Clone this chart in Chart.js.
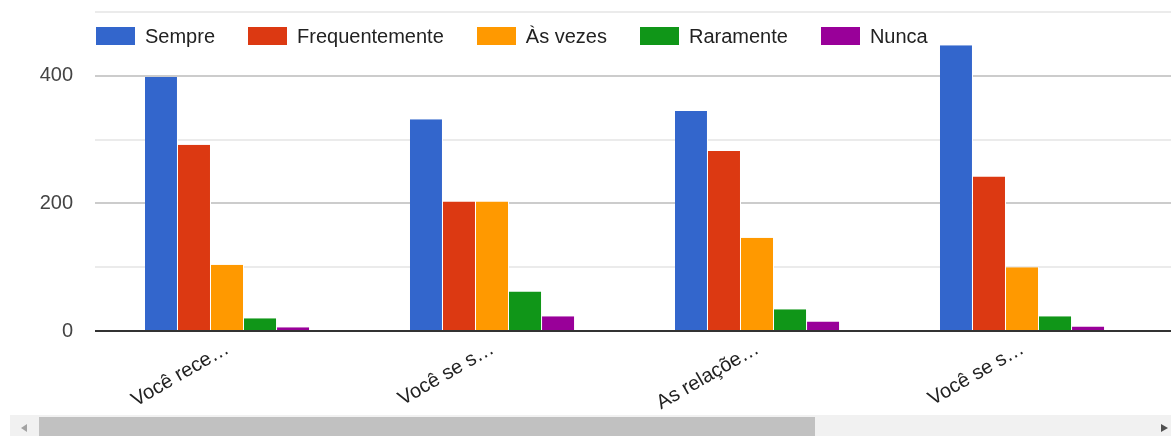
<!DOCTYPE html>
<html>
<head>
<meta charset="utf-8">
<script src="https://cdn.jsdelivr.net/npm/chart.js@4"></script>
<style>
  html, body { margin: 0; padding: 0; background: #fff; }
  body { width: 1171px; height: 436px; position: relative; overflow: hidden; font-family: "Liberation Sans", Arial, sans-serif; }
  #wrap { position: absolute; left: 0; top: 0; width: 1171px; height: 415px; }
  #legend { position: absolute; left: 96px; top: 27px; display: flex; align-items: center; font-size: 20px; color: #222; line-height: 18px; }
  #legend .item { display: flex; align-items: center; margin-right: 33px; }
  #legend .box { width: 39px; height: 18px; margin-right: 10px; }
  #scroll { position: absolute; left: 10px; top: 415px; width: 1161px; height: 21px; background: #f1f1f1; }
  #thumb { position: absolute; left: 29px; top: 2px; width: 776px; height: 19px; background: #c1c1c1; }
  #arrowL { position: absolute; left: 11px; top: 9px; width: 0; height: 0; border-top: 4.5px solid transparent; border-bottom: 4.5px solid transparent; border-right: 6px solid #a3a3a3; }
  #arrowR { position: absolute; left: 1151px; top: 9px; width: 0; height: 0; border-top: 4.5px solid transparent; border-bottom: 4.5px solid transparent; border-left: 7px solid #505050; }
</style>
</head>
<body>
<div id="wrap"><canvas id="chart" width="1171" height="415"></canvas></div>
<div id="legend"></div>
<div id="scroll"><div id="arrowL"></div><div id="thumb"></div><div id="arrowR"></div></div>
<script>
// Perguntas (rótulos truncados) e respostas por frequência
const categories = ["Você rece…", "Você se s…", "As relaçõe…", "Você se s…"];
const seriesNames = ["Sempre", "Frequentemente", "Às vezes", "Raramente", "Nunca"];
const seriesColors = ["#3366cc", "#dc3912", "#ff9900", "#109618", "#990099"];

const sempre = [398, 332, 345, 448];
const frequentemente = [292, 203, 282, 242];
const asVezes = [104, 203, 146, 100];
const raramente = [20, 62, 34, 23];
const nunca = [6, 23, 15, 7];

const seriesValues = [sempre, frequentemente, asVezes, raramente, nunca];

// cor da linha de grade conforme o valor
function lineColor(v) {
  if (v === 0) return "#333333";
  return v % 200 === 0 ? "#cccccc" : "#ebebeb";
}

// legenda em HTML, por cima da área do gráfico
const legendEl = document.getElementById("legend");
seriesNames.forEach((name, i) => {
  const item = document.createElement("div");
  item.className = "item";
  const box = document.createElement("div");
  box.className = "box";
  box.style.background = seriesColors[i];
  const label = document.createElement("span");
  label.textContent = name;
  item.appendChild(box);
  item.appendChild(label);
  legendEl.appendChild(item);
});

// prolonga as linhas de grade até a borda e desenha a linha do zero por cima das barras
const gridTail = {
  id: "gridTail",
  afterDatasetsDraw(chart) {
    const { ctx, chartArea, scales: { y } } = chart;
    ctx.save();
    ctx.lineWidth = 2;
    y.ticks.forEach(t => {
      const py = Math.round(y.getPixelForValue(t.value));
      ctx.strokeStyle = lineColor(t.value);
      ctx.beginPath();
      ctx.moveTo(t.value === 0 ? chartArea.left : chartArea.right, py);
      ctx.lineTo(chart.width, py);
      ctx.stroke();
    });
    ctx.restore();
  }
};

Chart.defaults.font.family = '"Liberation Sans", Arial, sans-serif';
Chart.defaults.font.size = 20;

new Chart(document.getElementById("chart"), {
  type: "bar",
  data: {
    labels: categories,
    datasets: seriesNames.map((name, i) => ({
      label: name,
      data: seriesValues[i],
      backgroundColor: seriesColors[i],
      borderColor: "#ffffff",
      borderWidth: { top: 0, right: 1, bottom: 0, left: 0 },
      categoryPercentage: 0.623,
      barPercentage: 1.0
    }))
  },
  options: {
    responsive: false,
    animation: false,
    layout: { padding: { top: 12, right: 16, left: 0, bottom: 0 } },
    plugins: {
      legend: { display: false },
      tooltip: { enabled: false }
    },
    scales: {
      x: {
        grid: { display: false, drawTicks: false },
        border: { display: false },
        ticks: { minRotation: 30, maxRotation: 30, autoSkip: false, padding: 6, color: "#222" },
        afterFit: s => { s.height = 84; s.paddingLeft = 0; s.paddingRight = 0; }
      },
      y: {
        min: 0,
        max: 500,
        border: { display: false },
        grid: {
          drawTicks: false,
          lineWidth: 2,
          color: ctx => ctx.tick && ctx.tick.value === 0 ? "rgba(0,0,0,0)" : lineColor(ctx.tick ? ctx.tick.value : 100)
        },
        ticks: {
          stepSize: 100,
          padding: 22,
          color: "#444",
          callback: v => (v % 200 === 0 ? v : "")
        },
        afterFit: s => { s.width = 95; s.paddingTop = 0; s.paddingBottom = 0; }
      }
    }
  },
  plugins: [gridTail]
});
</script>
</body>
</html>
